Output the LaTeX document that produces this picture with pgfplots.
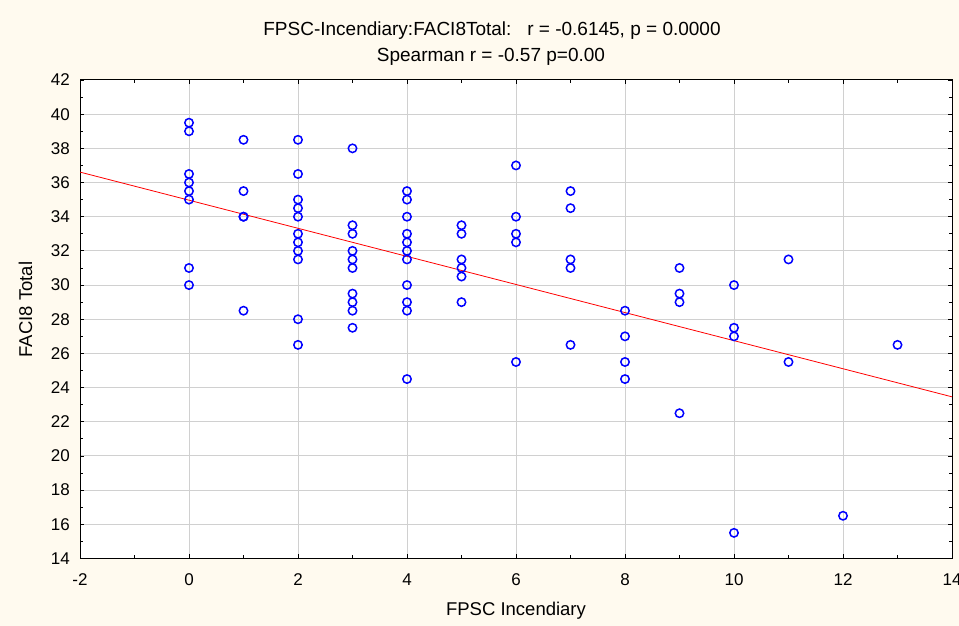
\documentclass[border=0pt]{standalone}
\usepackage{pgfplots}
\pgfplotsset{compat=1.18}
\usepackage{fontspec}
\setmainfont{Liberation Sans}
\definecolor{bgcream}{RGB}{255,250,239}
\definecolor{gridgray}{RGB}{208,208,208}
\begin{document}
\begin{tikzpicture}
\fill[bgcream] (0pt,0pt) rectangle (959pt,626pt);
\begin{axis}[
  at={(80pt,67.5pt)}, anchor=south west,
  width=872pt, height=478.5pt, scale only axis,
  xmin=-2, xmax=14, ymin=14, ymax=42,
  xtick={-2,0,...,14}, ytick={14,16,...,42},
  minor xtick={-1,1,...,13}, minor ytick={15,17,...,41},
  tick align=inside, major tick length=4pt, minor tick length=3pt,
  tick style={black, line width=0.8pt},
  grid=major, major grid style={gridgray, line width=1pt},
  axis background/.style={fill=white},
  axis line style={black, line width=1pt},
  /pgf/number format/assume math mode=true,
  ticklabel style={font=\fontsize{17}{20}\selectfont},
  xticklabel style={anchor=base, inner sep=0pt, yshift=-27.5pt},
  yticklabel style={anchor=east, inner sep=0pt, xshift=-10pt},
  xlabel={FPSC Incendiary},
  ylabel={FACI8 Total},
  label style={font=\fontsize{18.5}{22}\selectfont},
  xlabel style={at={(axis description cs:0.5,-0.1181)}, anchor=base, inner sep=0pt},
  ylabel style={at={(axis description cs:-0.0550,0.52)}, anchor=base, inner sep=0pt},
]
\addplot[only marks, mark=o, mark size=4.2pt, blue, mark options={line width=1.5pt}] table[x=x, y=y] {
x y
0 39.5
0 39
0 36.5
0 36
0 35.5
0 35
0 31
0 30
1 38.5
1 35.5
1 34
1 34
1 28.5
2 38.5
2 36.5
2 35
2 34.5
2 34
2 33
2 32.5
2 32
2 31.5
2 28
2 26.5
3 38
3 33.5
3 33
3 32
3 31.5
3 31
3 29.5
3 29
3 28.5
3 27.5
4 35.5
4 35
4 34
4 33
4 32.5
4 32
4 31.5
4 30
4 29
4 28.5
4 24.5
5 33.5
5 33
5 31.5
5 31
5 30.5
5 29
6 37
6 34
6 33
6 32.5
6 25.5
7 35.5
7 34.5
7 31.5
7 31
7 26.5
8 28.5
8 27
8 25.5
8 24.5
9 31
9 29.5
9 29
9 22.5
10 30
10 27.5
10 27
10 15.5
11 31.5
11 25.5
12 16.5
13 26.5
};
\addplot[red, line width=0.8pt] coordinates {(-2,36.61) (14,23.46)};
\end{axis}
\node[anchor=base, font=\fontsize{19}{22}\selectfont] at (492pt,590.3pt) {FPSC-Incendiary:FACI8Total:\ \ \ r = -0.6145, p = 0.0000};
\node[anchor=base, font=\fontsize{19}{22}\selectfont] at (491pt,564.3pt) {Spearman r = -0.57 p=0.00};
\pgfresetboundingbox
\useasboundingbox (0pt,0pt) rectangle (959pt,626pt);
\end{tikzpicture}
\end{document}
